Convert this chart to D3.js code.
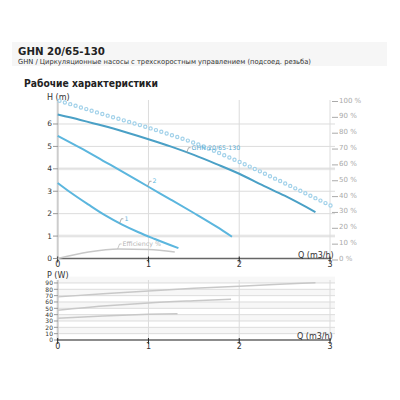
<!DOCTYPE html>
<html>
<head>
<meta charset="utf-8">
<script src="https://cdn.jsdelivr.net/npm/d3@7"></script>
<style>
  body { margin: 0; background: #fff; }
  text { font-family: "DejaVu Sans", Verdana, sans-serif; }
</style>
</head>
<body>
<div id="chart"></div>
<script>
// axis ticks
var qTicks = [0, 1, 2, 3]
var hTicks = [0, 1, 2, 3, 4, 5, 6]
var pctTicks = [0, 10, 20, 30, 40, 50, 60, 70, 80, 90, 100]
var pTicks = [0, 10, 20, 30, 40, 50, 60, 70, 80, 90]

// H(Q) curves, speed 3 / 2 / 1
var qMax = [0, 0.25, 0.5, 0.75, 1, 1.25, 1.5, 1.75, 2, 2.25, 2.5, 2.84]
var hMax = [6.42, 6.18, 5.92, 5.63, 5.32, 4.99, 4.62, 4.21, 3.78, 3.28, 2.8, 2.07]
var qMid = [0, 0.25, 0.5, 0.75, 1, 1.25, 1.5, 1.75, 1.92]
var hMid = [5.47, 4.93, 4.36, 3.79, 3.2, 2.62, 2.03, 1.42, 0.97]
var qMin = [0, 0.15, 0.34, 0.52, 0.71, 0.89, 1.07, 1.33]
var hMin = [3.37, 2.92, 2.4, 1.93, 1.51, 1.17, 0.87, 0.46]

// efficiency (%), right axis
var qEff = [0, 0.34, 0.67, 1, 1.29]
var eff = [0, 4.1, 6.0, 5.6, 4.1]
// dotted series (%), right axis
var qDot = [0.02, 0.5, 1, 1.5, 2, 2.5, 3.02]
var dotPct = [99.5, 91, 82.5, 73, 61, 47.5, 33]

// power P(Q)
var qPMax = [0, 0.5, 1, 1.5, 2, 2.5, 2.84]
var pMax = [68, 73, 77.5, 81.5, 85, 88.3, 90.5]
var qPMid = [0, 0.5, 1, 1.5, 1.91]
var pMid = [47, 53.5, 58.5, 62, 64.5]
var qPMin = [0, 0.5, 1, 1.32]
var pMin = [34.5, 38, 40.5, 41.5]

var svg = d3.select("#chart")
  .append("svg")
    .attr("width", 400)
    .attr("height", 400)

// header
svg.append("rect")
  .attr("x", 12).attr("y", 42).attr("width", 375).attr("height", 24)
  .attr("fill", "#f6f6f6")
svg.append("text")
  .attr("x", 18).attr("y", 55)
  .attr("textLength", 87).attr("lengthAdjust", "spacingAndGlyphs")
  .style("font-size", "11px").style("font-weight", "bold").attr("fill", "#222")
  .text("GHN 20/65-130")
svg.append("text")
  .attr("x", 18).attr("y", 64)
  .attr("textLength", 293).attr("lengthAdjust", "spacingAndGlyphs")
  .style("font-size", "7px").attr("fill", "#333")
  .text("GHN / Циркуляционные насосы с трехскоростным управлением (подсоед. резьба)")
svg.append("text")
  .attr("x", 24).attr("y", 87)
  .attr("textLength", 134).attr("lengthAdjust", "spacingAndGlyphs")
  .style("font-size", "10.5px").style("font-weight", "bold").attr("fill", "#222")
  .text("Рабочие характеристики")

// scales
var x = d3.scaleLinear().domain([0, 3]).range([57.7, 330])
var y = d3.scaleLinear().domain([0, 7.07]).range([258.5, 100])
var yPct = d3.scaleLinear().domain([0, 100]).range([258.5, 100])
var yP = d3.scaleLinear().domain([0, 95]).range([340, 279.8])

// ---- top chart grid
var gTop = svg.append("g")
gTop.selectAll("hband")
  .data([1, 4])
  .enter()
  .append("line")
    .attr("x1", x(0)).attr("x2", 335)
    .attr("y1", function(d){ return y(d) }).attr("y2", function(d){ return y(d) })
    .attr("stroke", "#eeeeee").attr("stroke-width", 3)
gTop.selectAll("hgrid")
  .data(hTicks.slice(1))
  .enter()
  .append("line")
    .attr("x1", x(0)).attr("x2", 335)
    .attr("y1", function(d){ return y(d) }).attr("y2", function(d){ return y(d) })
    .attr("stroke", "#dcdcdc")
gTop.selectAll("vgrid")
  .data(qTicks.slice(1))
  .enter()
  .append("line")
    .attr("x1", function(d){ return x(d) }).attr("x2", function(d){ return x(d) })
    .attr("y1", 100).attr("y2", y(0))
    .attr("stroke", "#dcdcdc")
gTop.append("line")
  .attr("x1", x(0)).attr("x2", x(0)).attr("y1", 100).attr("y2", y(0))
  .attr("stroke", "#cccccc").attr("stroke-width", 2)
gTop.append("line")
  .attr("x1", x(0) - 1).attr("x2", x(3) + 1).attr("y1", y(0)).attr("y2", y(0))
  .attr("stroke", "#666").attr("stroke-width", 1.5)

// left ticks + labels
gTop.selectAll("hticks")
  .data(hTicks)
  .enter()
  .append("line")
    .attr("x1", 53).attr("x2", 58)
    .attr("y1", function(d){ return y(d) }).attr("y2", function(d){ return y(d) })
    .attr("stroke", "#999")
gTop.selectAll("hlabels")
  .data(hTicks)
  .enter()
  .append("text")
    .attr("x", 52).attr("y", function(d){ return y(d) + 2.5 })
    .attr("text-anchor", "end")
    .style("font-size", "7.5px").attr("fill", "#333")
    .text(function(d){ return d })
gTop.append("text").attr("x", 47).attr("y", 100)
  .style("font-size", "8px").attr("fill", "#333").text("H (m)")

// bottom ticks + labels
gTop.selectAll("qticks")
  .data(qTicks)
  .enter()
  .append("line")
    .attr("x1", function(d){ return x(d) }).attr("x2", function(d){ return x(d) })
    .attr("y1", y(0) - 2).attr("y2", y(0) + 4)
    .attr("stroke", "#222")
gTop.selectAll("qlabels")
  .data(qTicks)
  .enter()
  .append("text")
    .attr("x", function(d){ return x(d) }).attr("y", 267)
    .attr("text-anchor", "middle")
    .style("font-size", "8px").attr("fill", "#333")
    .text(function(d){ return d })
gTop.append("text").attr("x", 298).attr("y", 258)
  .style("font-size", "8px").attr("fill", "#333").text("Q (m3/h)")

// right % axis
gTop.selectAll("pctticks")
  .data(pctTicks)
  .enter()
  .append("line")
    .attr("x1", 332).attr("x2", 338)
    .attr("y1", function(d){ return yPct(d) + 1.5 }).attr("y2", function(d){ return yPct(d) + 1.5 })
    .attr("stroke", "#aaa")
gTop.selectAll("pctlabels")
  .data(pctTicks)
  .enter()
  .append("text")
    .attr("x", 339).attr("y", function(d){ return yPct(d) + 2.5 })
    .style("font-size", "7px").attr("fill", "#aaa")
    .text(function(d){ return d + " %" })

// curves
var lineH = d3.line()
  .x(function(d){ return x(d[0]) })
  .y(function(d){ return y(d[1]) })
  .curve(d3.curveMonotoneX)
var linePct = d3.line()
  .x(function(d){ return x(d[0]) })
  .y(function(d){ return yPct(d[1]) })
  .curve(d3.curveMonotoneX)

var dotData = d3.zip(qDot, dotPct)
gTop.append("path")
  .attr("d", linePct(dotData))
  .attr("fill", "none").attr("stroke", "#a3d2ea")
  .attr("stroke-width", 4.4).attr("stroke-linecap", "round")
  .attr("stroke-dasharray", "0,5.6")
gTop.append("path")
  .attr("d", linePct(dotData))
  .attr("fill", "none").attr("stroke", "#fff")
  .attr("stroke-width", 2).attr("stroke-linecap", "round")
  .attr("stroke-dasharray", "0,5.6")

gTop.append("path")
  .attr("d", linePct(d3.zip(qEff, eff)))
  .attr("fill", "none").attr("stroke", "#c8c8c8").attr("stroke-width", 1.5)

var curves = [
  { q: qMax, h: hMax, color: "#4aa0c6" },
  { q: qMid, h: hMid, color: "#5bb6de" },
  { q: qMin, h: hMin, color: "#5bb6de" }
]
gTop.selectAll("curve")
  .data(curves)
  .enter()
  .append("path")
    .attr("d", function(d){ return lineH(d3.zip(d.q, d.h)) })
    .attr("fill", "none")
    .attr("stroke", function(d){ return d.color })
    .attr("stroke-width", 2)

// curve labels with leader
var labels = [
  { px: x(1.42), py: y(4.72), text: "GHN 20/65-130", color: "#5aaad0", stroke: "#999" },
  { px: x(0.99), py: y(3.22), text: "2", color: "#5bb6de", stroke: "#999" },
  { px: x(0.68), py: y(1.55), text: "1", color: "#5bb6de", stroke: "#999" },
  { px: x(0.66), py: yPct(6.0), text: "Efficiency %", color: "#b5b5b5", stroke: "#bbb" }
]
gTop.selectAll("leader")
  .data(labels)
  .enter()
  .append("path")
    .attr("d", function(d){ return "M" + d.px + "," + d.py + "L" + (d.px + 2) + "," + (d.py - 5) + "L" + (d.px + 4) + "," + (d.py - 5) })
    .attr("fill", "none").attr("stroke", function(d){ return d.stroke }).attr("stroke-width", 0.8)
gTop.selectAll("clabel")
  .data(labels)
  .enter()
  .append("text")
    .attr("x", function(d){ return d.px + 5 })
    .attr("y", function(d){ return d.py - 3 })
    .style("font-size", "6.3px")
    .attr("fill", function(d){ return d.color })
    .text(function(d){ return d.text })

// ---- power chart
var gBot = svg.append("g")
gBot.selectAll("pband")
  .data(pTicks.slice(1).filter(function(d, i){ return i % 2 == 0 }))
  .enter()
  .append("rect")
    .attr("x", x(0)).attr("width", 335 - x(0))
    .attr("y", function(d){ return yP(d + 10) }).attr("height", function(d){ return yP(d) - yP(d + 10) })
    .attr("fill", "#f7f7f7")
gBot.selectAll("pgrid")
  .data(pTicks.slice(1))
  .enter()
  .append("line")
    .attr("x1", x(0)).attr("x2", 335)
    .attr("y1", function(d){ return yP(d) }).attr("y2", function(d){ return yP(d) })
    .attr("stroke", "#dcdcdc")
gBot.selectAll("pvgrid")
  .data(qTicks.slice(1))
  .enter()
  .append("line")
    .attr("x1", function(d){ return x(d) }).attr("x2", function(d){ return x(d) })
    .attr("y1", 280).attr("y2", yP(0))
    .attr("stroke", "#dcdcdc")
gBot.append("line")
  .attr("x1", x(0)).attr("x2", x(0)).attr("y1", 280).attr("y2", yP(0))
  .attr("stroke", "#cccccc").attr("stroke-width", 2)
gBot.append("line")
  .attr("x1", x(0) - 1).attr("x2", x(3) + 1).attr("y1", yP(0)).attr("y2", yP(0))
  .attr("stroke", "#666").attr("stroke-width", 1.5)

gBot.selectAll("pticks")
  .data(pTicks)
  .enter()
  .append("line")
    .attr("x1", 54).attr("x2", 58)
    .attr("y1", function(d){ return yP(d) }).attr("y2", function(d){ return yP(d) })
    .attr("stroke", "#999")
gBot.selectAll("plabels")
  .data(pTicks)
  .enter()
  .append("text")
    .attr("x", 53).attr("y", function(d){ return yP(d) + 2.2 })
    .attr("text-anchor", "end")
    .style("font-size", "6px").attr("fill", "#333")
    .text(function(d){ return d })
gBot.append("text").attr("x", 47).attr("y", 278)
  .style("font-size", "8px").attr("fill", "#333").text("P (W)")

gBot.selectAll("pqticks")
  .data(qTicks)
  .enter()
  .append("line")
    .attr("x1", function(d){ return x(d) }).attr("x2", function(d){ return x(d) })
    .attr("y1", yP(0) - 2).attr("y2", yP(0) + 4)
    .attr("stroke", "#222")
gBot.selectAll("pqlabels")
  .data(qTicks)
  .enter()
  .append("text")
    .attr("x", function(d){ return x(d) }).attr("y", 349)
    .attr("text-anchor", "middle")
    .style("font-size", "8px").attr("fill", "#333")
    .text(function(d){ return d })
gBot.append("text").attr("x", 297).attr("y", 339)
  .style("font-size", "8px").attr("fill", "#333").text("Q (m3/h)")

var lineP = d3.line()
  .x(function(d){ return x(d[0]) })
  .y(function(d){ return yP(d[1]) })
  .curve(d3.curveMonotoneX)
var powers = [ d3.zip(qPMax, pMax), d3.zip(qPMid, pMid), d3.zip(qPMin, pMin) ]
gBot.selectAll("pcurve")
  .data(powers)
  .enter()
  .append("path")
    .attr("d", function(d){ return lineP(d) })
    .attr("fill", "none").attr("stroke", "#c8c8c8").attr("stroke-width", 1.5)
</script>
</body>
</html>
